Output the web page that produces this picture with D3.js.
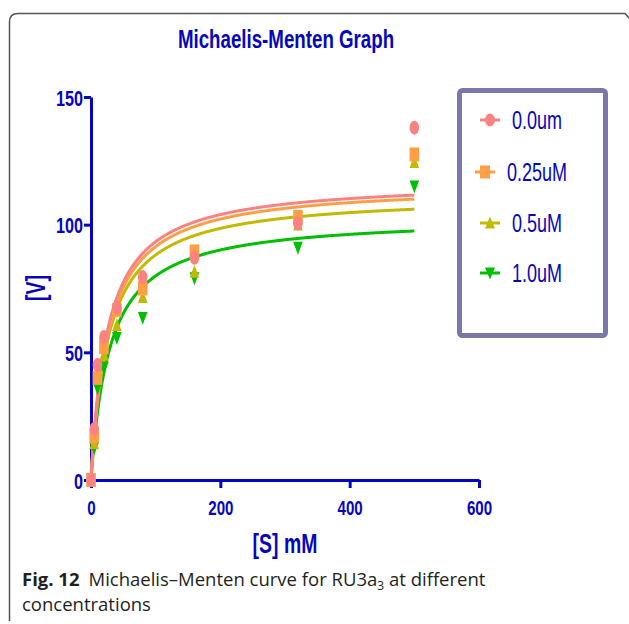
<!DOCTYPE html>
<html>
<head>
<meta charset="utf-8">
<script src="https://cdn.jsdelivr.net/npm/d3@7/dist/d3.min.js"></script>
<style>
  html, body { margin: 0; padding: 0; background: #fff; }
  svg { display: block; }
</style>
</head>
<body>
<svg id="chart" width="629" height="624"></svg>
<script>
// ---------------- data ----------------
const substrate = [0, 5, 10, 20, 40, 80, 160, 320, 500];
const seriesNames = ["0.0um", "0.25uM", "0.5uM", "1.0uM"];
const v00  = [0, 20, 45, 56, 67.5, 79.5, 87, 100.5, 138];
const v025 = [0, 17, 40, 52, 66.5, 75, 89.5, 103, 127.5];
const v05  = [0, 14.5, 41, 49, 60.7, 71.7, 81.5, 100, 124.5];
const v10  = [0, 12.5, 36, 44, 55.6, 63.5, 79, 91, 115];
// Michaelis-Menten fit parameters
const fitVmax = [117.3, 115.9, 111.7, 103.2];
const fitKm   = [25.7, 26.8, 26.7, 29.1];
const xTicks = [0, 200, 400, 600];
const yTicks = [0, 50, 100, 150];
const seriesValues = [v00, v025, v05, v10];

// ---------------- style ----------------
const colors = ["#FA8282", "#FF9F45", "#C2B900", "#00BE00"];
const shapes = ["ellipse", "square", "triangle", "triangleDown"];
const axisColor = "#0606BE";
const SQ = 0.72; // horizontal squeeze of chart lettering

const svg = d3.select("#chart");

// outer frame
svg.append("path")
  .attr("d", "M9.5,621 V22 Q9.5,13.5 18,13.5 H625 L629,18")
  .attr("fill", "none").attr("stroke", "#555").attr("stroke-width", 1.5);

const x = d3.scaleLinear().domain([0, 600]).range([91, 479]);
const y = d3.scaleLinear().domain([0, 150]).range([480, 97]);

function squeezedText(parent, tx, ty, txt, size, weight, anchor) {
  return parent.append("text")
    .attr("transform", `translate(${tx},${ty}) scale(${SQ},1)`)
    .attr("text-anchor", anchor || "middle")
    .attr("font-family", "'Liberation Sans', Arial, sans-serif")
    .attr("font-size", size)
    .attr("font-weight", weight || "bold")
    .attr("fill", axisColor)
    .text(txt);
}

// title
squeezedText(svg, 286, 48, "Michaelis-Menten Graph", 26, "bold");

// axes
const yAxis = svg.append("g").attr("transform", "translate(91,0)")
  .call(d3.axisLeft(y).tickValues(yTicks).tickSize(7).tickSizeOuter(0).tickFormat(d3.format("d")));
const xAxis = svg.append("g").attr("transform", "translate(0,480)")
  .call(d3.axisBottom(x).tickValues(xTicks).tickSize(8).tickSizeOuter(0).tickFormat(d3.format("d")));

[yAxis, xAxis].forEach(a => {
  a.select(".domain").attr("stroke", axisColor).attr("stroke-width", 3);
  a.selectAll(".tick line").attr("stroke", axisColor).attr("stroke-width", 3);
  a.selectAll(".tick text")
    .attr("fill", axisColor)
    .attr("font-family", "'Liberation Sans', Arial, sans-serif")
    .attr("font-weight", "bold");
});
yAxis.selectAll(".tick text")
  .attr("font-size", 22.5)
  .attr("x", -8 / SQ).attr("dy", "0.36em")
  .attr("transform", `scale(${SQ},1)`);
xAxis.selectAll(".tick text")
  .attr("font-size", 21)
  .attr("y", 35).attr("dy", 0)
  .attr("transform", `scale(${SQ},1)`);

// axis titles
squeezedText(svg, 285, 553, "[S] mM", 27, "bold");
svg.append("text")
  .attr("transform", `translate(45,288) rotate(-90) scale(${SQ},1)`)
  .attr("text-anchor", "middle")
  .attr("font-family", "'Liberation Sans', Arial, sans-serif")
  .attr("font-size", 27).attr("font-weight", "bold")
  .attr("fill", axisColor).text("[V]");

// fitted curves
const curveS = d3.range(0, 501, 1);
const line = d3.line().x(d => x(d[0])).y(d => y(d[1]));
const plot = svg.append("g");
[3, 2, 1, 0].forEach(i => {
  const pts = curveS.map(s => [s, fitVmax[i] * s / (fitKm[i] + s)]);
  plot.append("path").datum(pts)
    .attr("d", line).attr("fill", "none")
    .attr("stroke", colors[i]).attr("stroke-width", 3);
});

// markers
function drawMarker(g, shape, cx, cy, color, rx, ry) {
  if (shape === "ellipse") {
    g.append("ellipse").attr("cx", cx).attr("cy", cy).attr("rx", rx).attr("ry", ry).attr("fill", color);
  } else if (shape === "square") {
    g.append("rect").attr("x", cx - rx).attr("y", cy - ry).attr("width", 2 * rx).attr("height", 2 * ry).attr("fill", color);
  } else if (shape === "triangle") {
    g.append("path").attr("d", `M${cx},${cy - ry} L${cx + rx},${cy + ry * 0.85} L${cx - rx},${cy + ry * 0.85} Z`).attr("fill", color);
  } else {
    g.append("path").attr("d", `M${cx},${cy + ry} L${cx + rx},${cy - ry * 0.85} L${cx - rx},${cy - ry * 0.85} Z`).attr("fill", color);
  }
}
[3, 2, 1, 0].forEach(i => {
  const g = plot.append("g");
  seriesValues[i].forEach((v, j) => {
    drawMarker(g, shapes[i], x(substrate[j]), y(v), colors[i], 4.8, 7);
  });
});

// legend
svg.append("rect")
  .attr("x", 459.5).attr("y", 90.5).attr("width", 146).attr("height", 245)
  .attr("rx", 3).attr("fill", "none")
  .attr("stroke", "#7A78A8").attr("stroke-width", 5);
const legendRows = [120, 172, 223, 273];
const legendCenter = 521;
seriesNames.forEach((name, i) => {
  const g = svg.append("g");
  const t = squeezedText(g, 0, legendRows[i] + 9, name, 25, "normal", "start");
  const tw = t.node().getComputedTextLength() * SQ;
  const total = 20 + 12 + tw;
  const left = legendCenter - total / 2;
  t.attr("transform", `translate(${left + 32},${legendRows[i] + 9}) scale(${SQ},1)`);
  g.append("line").attr("x1", left).attr("x2", left + 20)
    .attr("y1", legendRows[i]).attr("y2", legendRows[i])
    .attr("stroke", colors[i]).attr("stroke-width", 3);
  drawMarker(g, shapes[i], left + 10, legendRows[i], colors[i], 5, 6.5);
});

// caption
const cap = svg.append("text")
  .attr("x", 22).attr("y", 586)
  .attr("font-family", "'Open Sans', 'Noto Sans', sans-serif")
  .attr("font-size", 18.5).attr("fill", "#231F20");
cap.append("tspan").attr("font-weight", "bold").text("Fig. 12");
cap.append("tspan").attr("dx", 9).text("Michaelis\u2013Menten curve for RU3a");
cap.append("tspan").attr("font-size", 12).attr("dy", 4).text("3");
cap.append("tspan").attr("dy", -4).text(" at different");
svg.append("text")
  .attr("x", 22).attr("y", 611)
  .attr("font-family", "'Open Sans', 'Noto Sans', sans-serif")
  .attr("font-size", 18.5).attr("fill", "#231F20")
  .text("concentrations");
</script>
</body>
</html>
